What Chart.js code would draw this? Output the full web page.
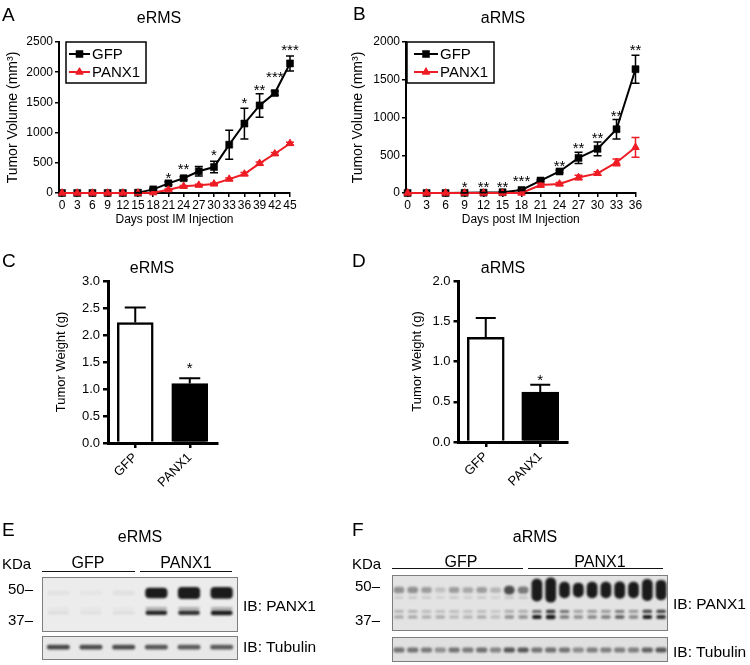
<!DOCTYPE html>
<html>
<head>
<meta charset="utf-8">
<script src="https://cdn.jsdelivr.net/npm/chart.js@4.4.1/dist/chart.umd.min.js"></script>
<style>
html,body{margin:0;padding:0;background:#fff;}
body{width:750px;height:665px;position:relative;overflow:hidden;font-family:"Liberation Sans",Arial,Helvetica,sans-serif;color:#000;}
canvas{position:absolute;left:0;top:0;}
.c{position:absolute;white-space:nowrap;line-height:1;transform:translate(-50%,-50%);}
.l{position:absolute;white-space:nowrap;line-height:1;transform:translate(0,-50%);}
.rule{position:absolute;height:0;border-top:1.5px solid #111;}
</style>
</head>
<body>
<canvas id="cA" width="750" height="665"></canvas>
<canvas id="cB" width="750" height="665"></canvas>
<canvas id="cC" width="750" height="665"></canvas>
<canvas id="cD" width="750" height="665"></canvas>
<canvas id="cE1" width="750" height="665"></canvas>
<canvas id="cE2" width="750" height="665"></canvas>
<canvas id="cF1" width="750" height="665"></canvas>
<canvas id="cF2" width="750" height="665"></canvas>

<div class="l" style="left:2px;top:14px;font-size:19px">A</div>
<div class="c" style="left:159px;top:18px;font-size:16px">eRMS</div>
<div class="l" style="left:353px;top:13px;font-size:19px">B</div>
<div class="c" style="left:503px;top:18px;font-size:16px">aRMS</div>
<div class="l" style="left:2px;top:260px;font-size:19px">C</div>
<div class="c" style="left:152px;top:268px;font-size:16px">eRMS</div>
<div class="l" style="left:352px;top:260px;font-size:19px">D</div>
<div class="c" style="left:503px;top:268px;font-size:16px">aRMS</div>
<div class="l" style="left:2px;top:529px;font-size:19px">E</div>
<div class="c" style="left:140px;top:537px;font-size:16px">eRMS</div>
<div class="l" style="left:352px;top:529px;font-size:19px">F</div>
<div class="c" style="left:535px;top:537px;font-size:16px">aRMS</div>

<div class="l" style="left:2px;top:563px;font-size:15px">KDa</div>
<div class="c" style="left:88px;top:563px;font-size:16px">GFP</div>
<div class="c" style="left:186px;top:563px;font-size:16px">PANX1</div>
<div class="rule" style="left:42px;width:93px;top:571px"></div>
<div class="rule" style="left:140px;width:92px;top:571px"></div>
<div class="l" style="left:243px;top:606px;font-size:15.5px">IB: PANX1</div>
<div class="l" style="left:243px;top:647px;font-size:15.5px">IB: Tubulin</div>

<div class="l" style="left:352px;top:563px;font-size:15px">KDa</div>
<div class="c" style="left:461px;top:562px;font-size:16px">GFP</div>
<div class="c" style="left:600px;top:562px;font-size:16px">PANX1</div>
<div class="rule" style="left:392px;width:131px;top:568px"></div>
<div class="rule" style="left:528px;width:135px;top:568px"></div>
<div class="l" style="left:673px;top:604px;font-size:15.5px">IB: PANX1</div>
<div class="l" style="left:673px;top:652px;font-size:15.5px">IB: Tubulin</div>

<script>
const FONT = '"Liberation Sans", Arial, Helvetica, sans-serif';
const RED = '#ee1c24';

// ---------- Panel A: eRMS tumor volume ----------
const daysE = [0, 3, 6, 9, 12, 15, 18, 21, 24, 27, 30, 33, 36, 39, 42, 45];
const volGfpE = [0, 0, 0, 0, 0, 5, 60, 160, 245, 360, 430, 800, 1150, 1450, 1655, 2145];
const semGfpE = [0, 0, 0, 0, 0, 5, 15, 25, 25, 80, 95, 240, 255, 195, 35, 125];
const volPanxE = [0, 0, 0, 0, 0, 0, 5, 55, 110, 130, 150, 230, 315, 490, 650, 820];
const semPanxE = [0, 0, 0, 0, 0, 0, 3, 10, 15, 15, 15, 20, 25, 25, 20, 20];
const volTicksE = [0, 500, 1000, 1500, 2000, 2500];
const starDaysE = [21, 24, 30, 36, 39, 42, 45];
const starTextE = ['*', '**', '*', '*', '**', '***', '***'];
const starValE = [315, 464, 684, 1557, 1772, 1987, 2434];

// ---------- Panel B: aRMS tumor volume ----------
const daysA = [0, 3, 6, 9, 12, 15, 18, 21, 24, 27, 30, 33, 36];
const volGfpA = [0, 0, 0, 2, 5, 10, 40, 165, 285, 465, 585, 845, 1640];
const semGfpA = [0, 0, 0, 2, 3, 5, 8, 12, 15, 75, 90, 130, 185];
const volPanxA = [0, 0, 0, 0, 0, 0, 0, 105, 120, 205, 260, 405, 605];
const semPanxA = [0, 0, 0, 0, 0, 0, 0, 25, 20, 30, 20, 45, 130];
const volTicksA = [0, 500, 1000, 1500, 2000];
const starDaysA = [9, 12, 15, 18, 24, 27, 30, 33, 36];
const starTextA = ['*', '**', '**', '***', '**', '**', '**', '**', '**'];
const starValA = [132, 132, 132, 212, 411, 649, 782, 1073, 1948];

// ---------- Panels C / D: tumor weight ----------
const groups = ['GFP', 'PANX1'];
const weightE = [2.23, 1.10];
const weightSemE = [0.28, 0.10];
const weightTicksE = [0, 0.5, 1.0, 1.5, 2.0, 2.5, 3.0];
const weightStarE = { idx: [1], text: ['*'], val: [1.46] };
const weightA = [1.30, 0.62];
const weightSemA = [0.24, 0.09];
const weightTicksA = [0, 0.5, 1.0, 1.5, 2.0];
const weightStarA = { idx: [1], text: ['*'], val: [0.82] };

// ---------- Panels E / F: western blots (band signal per lane) ----------
const lanesE = ['GFP 1', 'GFP 2', 'GFP 3', 'PANX1 1', 'PANX1 2', 'PANX1 3'];
const kdaMarkers = [50, 37];
const eBand49 = [0.05, 0.04, 0.06, 1.6, 2.0, 1.9];
const eBand42 = [0.03, 0.03, 0.03, 0.3, 0.3, 0.32];
const eBand40 = [0.08, 0.06, 0.08, 1.0, 0.95, 1.1];
const eTubulin = [0.82, 0.80, 0.80, 0.74, 0.72, 0.72];
const bandKdaE = [48.6, 42.2, 40.4];

const lanesF = ['G1','G2','G3','G4','G5','G6','G7','G8','G9','G10','P1','P2','P3','P4','P5','P6','P7','P8','P9','P10'];
const fBand49 = [0.35, 0.35, 0.30, 0.15, 0.30, 0.25, 0.30, 0.20, 0.65, 0.45, 2.4, 2.7, 1.6, 1.4, 1.6, 1.6, 1.7, 1.6, 2.3, 2.1];
const fBand46 = [0.12, 0.12, 0.12, 0.08, 0.12, 0.10, 0.12, 0.08, 0.15, 0.14, 0, 0, 0, 0, 0, 0, 0, 0, 0, 0];
const fBand41 = [0.22, 0.22, 0.20, 0.18, 0.20, 0.18, 0.20, 0.15, 0.25, 0.25, 0.55, 0.75, 0.50, 0.30, 0.35, 0.35, 0.45, 0.35, 0.70, 0.70];
const fBand39 = [0.30, 0.30, 0.28, 0.30, 0.22, 0.25, 0.30, 0.20, 0.40, 0.40, 0.95, 1.10, 0.50, 0.40, 0.45, 0.50, 0.65, 0.45, 0.95, 0.85];
const fTubulin = [0.62, 0.62, 0.58, 0.45, 0.62, 0.58, 0.64, 0.52, 0.78, 0.78, 0.62, 0.64, 0.62, 0.48, 0.56, 0.56, 0.56, 0.56, 0.72, 0.78];
const bandKdaF = [48.8, 46.0, 40.7, 38.6];

// ---------- Chart defaults ----------
Chart.defaults.font.family = FONT;
Chart.defaults.color = '#000';
Chart.defaults.animation = false;
Chart.defaults.responsive = false;
Chart.defaults.maintainAspectRatio = false;
Chart.defaults.devicePixelRatio = 1;
Chart.defaults.plugins.legend.display = false;
Chart.defaults.plugins.tooltip.enabled = false;
Chart.defaults.events = [];

// ---------- plugins ----------
const errorBars = {
  id: 'errorBars',
  afterDatasetsDraw(chart, args, o) {
    const ctx = chart.ctx;
    chart.data.datasets.forEach((ds, di) => {
      if (!ds.errors) return;
      const meta = chart.getDatasetMeta(di);
      const ys = chart.scales[meta.yAxisID];
      ctx.save();
      ctx.strokeStyle = ds.errorColor || '#000';
      ctx.lineWidth = o.width;
      meta.data.forEach((el, i) => {
        const e = ds.errors[i];
        if (!e) return;
        const raw = ds.data[i];
        const v = (raw !== null && typeof raw === 'object') ? raw.y : raw;
        const x = el.x;
        const y1 = ys.getPixelForValue(v + e);
        const y0 = o.upOnly ? ys.getPixelForValue(v) : ys.getPixelForValue(v - e);
        ctx.beginPath();
        ctx.moveTo(x, y0); ctx.lineTo(x, y1);
        ctx.moveTo(x - o.cap, y1); ctx.lineTo(x + o.cap, y1);
        if (!o.upOnly) { ctx.moveTo(x - o.cap, y0); ctx.lineTo(x + o.cap, y0); }
        ctx.stroke();
      });
      ctx.restore();
    });
  }
};

const starMarks = {
  id: 'starMarks',
  afterDatasetsDraw(chart, args, o) {
    const ctx = chart.ctx, xs = chart.scales.x, ys = chart.scales.y;
    ctx.save();
    ctx.fillStyle = '#000';
    ctx.font = o.size + 'px ' + FONT;
    ctx.textAlign = 'center';
    ctx.textBaseline = 'alphabetic';
    o.xs.forEach((xv, i) => {
      ctx.fillText(o.text[i], xs.getPixelForValue(xv), ys.getPixelForValue(o.ys[i]) + o.size * 0.58);
    });
    ctx.restore();
  }
};

function marker(ctx, style, r, x, y) {
  ctx.beginPath();
  if (style === 'rect') {
    const s = Math.SQRT1_2 * r;
    ctx.rect(x - s, y - s, 2 * s, 2 * s);
  } else {
    let a = 0;
    for (let k = 0; k < 3; k++) {
      const px = x + Math.sin(a) * r, py = y - Math.cos(a) * r;
      if (k === 0) ctx.moveTo(px, py); else ctx.lineTo(px, py);
      a += Math.PI * 2 / 3;
    }
    ctx.closePath();
  }
  ctx.fill();
  ctx.stroke();
}

const boxLegend = {
  id: 'boxLegend',
  afterDraw(chart, args, o) {
    const ctx = chart.ctx;
    ctx.save();
    ctx.fillStyle = '#fff';
    ctx.strokeStyle = '#000';
    ctx.lineWidth = 1.5;
    ctx.fillRect(o.x, o.y, o.w, o.h);
    ctx.strokeRect(o.x, o.y, o.w, o.h);
    const items = chart.data.datasets.slice().sort((a, b) => a.legendIndex - b.legendIndex);
    items.forEach((ds, i) => {
      const cy = o.y + o.rows[i];
      ctx.strokeStyle = ds.borderColor;
      ctx.fillStyle = ds.backgroundColor;
      ctx.lineWidth = ds.borderWidth;
      ctx.beginPath();
      ctx.moveTo(o.x + o.seg[0], cy); ctx.lineTo(o.x + o.seg[1], cy);
      ctx.stroke();
      ctx.lineWidth = ds.pointBorderWidth;
      marker(ctx, ds.pointStyle, ds.pointRadius, o.x + (o.seg[0] + o.seg[1]) / 2, cy);
      ctx.fillStyle = '#000';
      ctx.font = '15px ' + FONT;
      ctx.textBaseline = 'middle';
      ctx.textAlign = 'left';
      ctx.fillText(ds.label, o.x + o.textX, cy + 1);
    });
    ctx.restore();
  }
};

const blotFrame = {
  id: 'blotFrame',
  beforeDatasetsDraw(chart, args, o) {
    const ctx = chart.ctx, a = chart.chartArea;
    ctx.save();
    ctx.fillStyle = o.bg;
    ctx.fillRect(a.left, a.top, a.right - a.left, a.bottom - a.top);
    ctx.restore();
    ctx.save();
    ctx.filter = 'blur(' + o.blur + 'px)';
  },
  afterDatasetsDraw(chart, args, o) {
    const ctx = chart.ctx, a = chart.chartArea;
    ctx.restore();
    ctx.save();
    ctx.strokeStyle = o.edge;
    ctx.lineWidth = 1;
    ctx.strokeRect(a.left + 0.5, a.top + 0.5, a.right - a.left - 1, a.bottom - a.top - 1);
    ctx.restore();
  }
};

// ---------- builders ----------
function growth(id, g, days, gfp, gfpSem, panx, panxSem, yTicks, sDays, sText, sVal) {
  const pts = arr => days.map((d, i) => ({ x: d, y: arr[i] }));
  return new Chart(document.getElementById(id), {
    type: 'line',
    data: {
      datasets: [
        { label: 'PANX1', legendIndex: 1, data: pts(panx), errors: panxSem, errorColor: RED,
          borderColor: RED, backgroundColor: RED, borderWidth: 2, pointStyle: 'triangle',
          pointRadius: 4.3, pointBorderWidth: 1, pointBorderColor: RED, pointBackgroundColor: RED,
          tension: 0, clip: false, order: 0 },
        { label: 'GFP', legendIndex: 0, data: pts(gfp), errors: gfpSem, errorColor: '#000',
          borderColor: '#000', backgroundColor: '#000', borderWidth: 2, pointStyle: 'rect',
          pointRadius: 5, pointBorderWidth: 0.5, pointBorderColor: '#000', pointBackgroundColor: '#000',
          tension: 0, clip: false, order: 1 }
      ]
    },
    options: {
      layout: { padding: { left: g.padL, top: g.top, right: 750 - g.right, bottom: 665 - g.bottom - g.xH } },
      scales: {
        x: {
          type: 'linear', min: g.xMin, max: days[days.length - 1],
          afterBuildTicks: s => { s.ticks = days.map(v => ({ value: v })); },
          afterFit: s => { s.height = g.xH; },
          ticks: { font: { size: 12 }, color: '#000', padding: 1, autoSkip: false, maxRotation: 0, minRotation: 0, callback: v => String(v) },
          grid: { drawOnChartArea: false, drawTicks: true, tickLength: 4, color: '#000', lineWidth: 1.5 },
          border: { display: true, color: '#000', width: 2 },
          title: { display: true, text: 'Days post IM Injection', font: { size: 12 }, color: '#000', padding: 0 }
        },
        y: {
          type: 'linear', min: 0, max: yTicks[yTicks.length - 1],
          afterBuildTicks: s => { s.ticks = yTicks.map(v => ({ value: v })); },
          afterFit: s => { s.width = g.axisX - g.padL; },
          ticks: { font: { size: 12 }, color: '#000', padding: 2, callback: v => String(v) },
          grid: { drawOnChartArea: false, drawTicks: true, tickLength: 4, color: '#000', lineWidth: 1.5 },
          border: { display: true, color: '#000', width: 2 },
          title: { display: true, text: 'Tumor Volume (mm³)', font: { size: 14 }, color: '#000', padding: 0 }
        }
      },
      plugins: {
        errorBars: { cap: 4, width: 1.5, upOnly: false },
        starMarks: { xs: sDays, text: sText, ys: sVal, size: 15 },
        boxLegend: g.legend
      }
    },
    plugins: [errorBars, starMarks, boxLegend]
  });
}

function weight(id, g, vals, sem, yTicks, stars) {
  return new Chart(document.getElementById(id), {
    type: 'bar',
    data: {
      labels: groups,
      datasets: [{ data: vals, errors: sem, errorColor: '#000',
        backgroundColor: ['#fff', '#000'], borderColor: '#000', borderWidth: 2.5,
        borderSkipped: 'start', barThickness: g.barW }]
    },
    options: {
      layout: { padding: { left: g.padL, top: g.top, right: 750 - g.right, bottom: 665 - g.bottom - g.xH } },
      scales: {
        x: {
          type: 'category', offset: true,
          afterFit: s => { s.height = g.xH; },
          ticks: { font: { size: 13 }, color: '#000', padding: 2, minRotation: 45, maxRotation: 45 },
          grid: { offset: false, drawOnChartArea: false, drawTicks: true, tickLength: 5, color: '#000', lineWidth: 2.5 },
          border: { display: true, color: '#000', width: 3 }
        },
        y: {
          type: 'linear', min: 0, max: yTicks[yTicks.length - 1],
          afterBuildTicks: s => { s.ticks = yTicks.map(v => ({ value: v })); },
          afterFit: s => { s.width = g.axisX - g.padL; },
          ticks: { font: { size: 13 }, color: '#000', padding: 3, callback: v => Number(v).toFixed(1) },
          grid: { drawOnChartArea: false, drawTicks: true, tickLength: 5, color: '#000', lineWidth: 2.5 },
          border: { display: true, color: '#000', width: 3 },
          title: { display: true, text: 'Tumor Weight (g)', font: { size: 13 }, color: '#000', padding: 0 }
        }
      },
      plugins: {
        errorBars: { cap: g.cap, width: 2, upOnly: true },
        starMarks: { xs: stars.idx, text: stars.text, ys: stars.val, size: 15 }
      }
    },
    plugins: [errorBars, starMarks]
  });
}

function blot(id, g, lanes, bands, frame) {
  const withAxis = !!g.markers;
  return new Chart(document.getElementById(id), {
    type: 'bar',
    data: {
      labels: lanes,
      datasets: bands.map(b => ({
        data: b.amount.map(a => a > 0 ? [b.center - b.half(a), b.center + b.half(a)] : null),
        backgroundColor: b.amount.map(a => 'rgba(16,16,16,' + Math.min(0.95, a * b.gain).toFixed(3) + ')'),
        borderWidth: 0, borderRadius: b.radius, borderSkipped: false,
        grouped: false, barPercentage: b.pct, categoryPercentage: 1
      }))
    },
    options: {
      layout: { padding: { left: withAxis ? g.padL : g.left, top: g.top, right: 750 - g.right, bottom: 665 - g.bottom } },
      scales: {
        x: { display: false, offset: true },
        y: {
          display: withAxis, min: g.range[0], max: g.range[1],
          afterBuildTicks: s => { if (withAxis) s.ticks = g.markers.map(v => ({ value: v })); },
          afterFit: s => { if (withAxis) s.width = g.left - g.padL; },
          ticks: { font: { size: 15 }, color: '#000', padding: g.tickPad || 1, callback: v => v + '–' },
          grid: { display: false },
          border: { display: false }
        }
      },
      plugins: { blotFrame: frame }
    },
    plugins: [blotFrame]
  });
}

// ---------- build ----------
growth('cA', {
  padL: 5, axisX: 59, right: 290, top: 42, bottom: 193, xH: 34, xMin: -0.6,
  legend: { x: 66, y: 42, w: 80, h: 41, rows: [12, 30], seg: [3, 24], textX: 26 }
}, daysE, volGfpE, semGfpE, volPanxE, semPanxE, volTicksE, starDaysE, starTextE, starValE);

growth('cB', {
  padL: 350, axisX: 406, right: 635.5, top: 42, bottom: 193, xH: 34, xMin: -0.25,
  legend: { x: 407, y: 42, w: 87, h: 41, rows: [12, 30], seg: [7, 31], textX: 33 }
}, daysA, volGfpA, semGfpA, volPanxA, semPanxA, volTicksA, starDaysA, starTextA, starValA);

weight('cC', { padL: 54, axisX: 108, right: 217, top: 281, bottom: 443, xH: 60, barW: 36, cap: 10.5 },
  weightE, weightSemE, weightTicksE, weightStarE);
weight('cD', { padL: 410, axisX: 458.5, right: 567.5, top: 281, bottom: 442, xH: 60, barW: 37, cap: 10 },
  weightA, weightSemA, weightTicksA, weightStarA);

// E blots
blot('cE1', { padL: 0, left: 42, right: 238, top: 577, bottom: 632, range: [32.45, 55.2], markers: kdaMarkers, tickPad: 1 },
  lanesE, [
    { amount: eBand49, center: bandKdaE[0], half: a => 0.9 + 0.8 * a, gain: 0.9, pct: 0.68, radius: 4 },
    { amount: eBand42, center: bandKdaE[1], half: a => 0.5 + 0.3 * a, gain: 0.9, pct: 0.66, radius: 2 },
    { amount: eBand40, center: bandKdaE[2], half: a => 0.6 + 0.35 * a, gain: 0.9, pct: 0.66, radius: 2 }
  ], { bg: '#ececec', edge: '#7d7d7d', blur: 1 });

blot('cE2', { left: 42, right: 238, top: 636, bottom: 660, range: [0, 1] },
  lanesE, [
    { amount: eTubulin, center: 0.54, half: a => 0.1, gain: 0.9, pct: 0.7, radius: 2 }
  ], { bg: '#e8e8e8', edge: '#7d7d7d', blur: 0.9 });

// F blots
blot('cF1', { padL: 352, left: 392, right: 668, top: 575, bottom: 631, range: [33.3, 54.5], markers: kdaMarkers, tickPad: 4 },
  lanesF, [
    { amount: fBand49, center: bandKdaF[0], half: a => 0.7 + 1.5 * a, gain: 1.1, pct: 0.78, radius: 5 },
    { amount: fBand46, center: bandKdaF[1], half: a => 0.5, gain: 1.1, pct: 0.66, radius: 2 },
    { amount: fBand41, center: bandKdaF[2], half: a => 0.45 + 0.25 * a, gain: 1.1, pct: 0.7, radius: 2 },
    { amount: fBand39, center: bandKdaF[3], half: a => 0.5 + 0.3 * a, gain: 1.0, pct: 0.7, radius: 2 }
  ], { bg: '#e3e3e3', edge: '#7d7d7d', blur: 1 });

blot('cF2', { left: 392, right: 668, top: 637, bottom: 662, range: [0, 1] },
  lanesF, [
    { amount: fTubulin, center: 0.48, half: a => 0.1, gain: 0.85, pct: 0.8, radius: 2 }
  ], { bg: '#e0e0e0', edge: '#7d7d7d', blur: 0.9 });
</script>
</body>
</html>
